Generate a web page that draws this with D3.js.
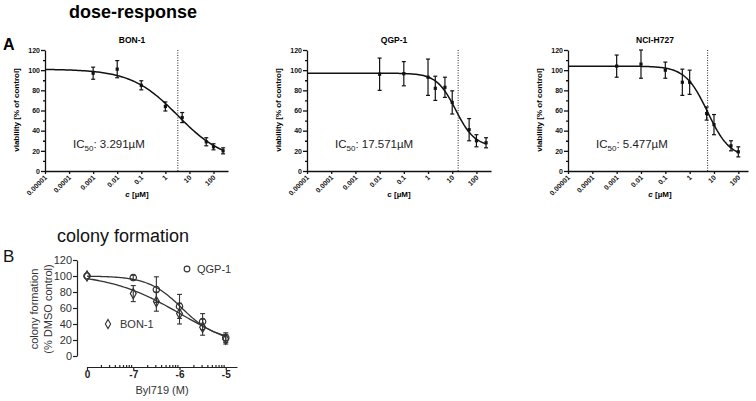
<!DOCTYPE html>
<html>
<head>
<meta charset="utf-8">
<script src="https://cdn.jsdelivr.net/npm/d3@7"></script>
<style>
  body { margin: 0; background: #fff; }
  svg { display: block; font-family: "Liberation Sans", Arial, sans-serif; }
  .axA path, .axA line { stroke: #111; stroke-width: 1.3; }
  .axA text { font-size: 7px; font-weight: bold; fill: #111; }
  .axB path, .axB line { stroke: #222; stroke-width: 1.2; }
</style>
</head>
<body>
<svg id="chart" width="756" height="401"></svg>
<script>
// ---- A: dose-response (viability, % of control) ----
var cellLines = ["BON-1", "QGP-1", "NCI-H727"];
var ic50 = [3.291, 17.571, 5.477];

var concBON = [0.001, 0.01, 0.1, 1, 5, 50, 100, 250];
var viabBON = [97, 101, 85, 64, 53, 29, 24, 20];
var errBON  = [6, 8.5, 4.5, 4.5, 5, 4, 3, 3];

var concQGP = [0.01, 0.1, 1, 2, 5, 10, 50, 100, 250];
var viabQGP = [96, 96.5, 93, 82, 83, 68, 41, 30, 28];
var errQGP  = [16, 12, 18, 12, 10, 11.5, 11, 6, 5];

var concNCI = [0.001, 0.01, 0.1, 0.5, 1, 5, 10, 50, 100];
var viabNCI = [104, 106, 100, 88, 88, 57, 46, 25, 19];
var errNCI  = [11, 14, 8, 13, 12, 6.5, 10, 5, 5];

// fitted 4PL curve parameters
var fitTop    = [101, 97, 104];
var fitBottom = [9, 24, 13];
var fitHill   = [0.45, 1.1, 0.95];
var fitEC50   = [3.291, 14, 5.477];

var doseTicks = [0.00001, 0.0001, 0.001, 0.01, 0.1, 1, 10, 100];
var doseTickLabels = ["0.00001", "0.0001", "0.001", "0.01", "0.1", "1", "10", "100"];
var viabTicks = [0, 20, 40, 60, 80, 100, 120];

// ---- B: colony formation ----
var bylDose = [0, 1e-7, 3.16e-7, 1e-6, 3.16e-6, 1e-5];
var colQGP = [100, 98, 83, 62, 43, 23];
var colQGPerr = [0, 3, 16, 15, 10, 6];
var colBON = [100, 78, 68, 53, 36, 21];
var colBONerr = [0, 10, 12, 13, 10, 6];
var colFitTop = [100, 104];
var colFitBottom = [20, 0];
var colFitHill = [1.2, 0.55];
var colFitEC50 = [1.12e-6, 1.1e-6];
var colTicks = [0, 20, 40, 60, 80, 100, 120];
var bylTickLabels = {"-8": "0", "-7": "-7", "-6": "-6", "-5": "-5"};

function fourPL(top, bottom, hill, ec50, x) {
  return bottom + (top - bottom) / (1 + Math.pow(x / ec50, hill));
}

function isDecade(d) {
  return Math.abs(Math.log10(d) - Math.round(Math.log10(d))) < 1e-6;
}

var svg = d3.select("#chart");

// headings
svg.append("text").attr("x", 133).attr("y", 18).attr("text-anchor", "middle")
  .style("font-size", "18px").style("font-weight", "bold").text("dose-response");
svg.append("text").attr("x", 3).attr("y", 50)
  .style("font-size", "16px").style("font-weight", "bold").text("A");

var panels = [
  {conc: concBON, viab: viabBON, err: errBON, x0: 45, x1: 228, italicC: true},
  {conc: concQGP, viab: viabQGP, err: errQGP, x0: 307, x1: 491, italicC: false},
  {conc: concNCI, viab: viabNCI, err: errNCI, x0: 568, x1: 748, italicC: true}
];
var domMax = [400, 400, 250];

panels.forEach(function(p, i) {
  var x = d3.scaleLog().domain([0.00001, domMax[i]]).range([p.x0, p.x1]);
  var y = d3.scaleLinear().domain([0, 120]).range([171, 50]);
  var g = svg.append("g");

  // y axis with minor ticks
  g.append("g").attr("class", "axA")
    .attr("transform", "translate(" + p.x0 + ",0)")
    .call(d3.axisLeft(y).tickValues(d3.range(10, 120, 20)).tickSize(2).tickFormat(""))
    .select(".domain").remove();
  g.append("g").attr("class", "axA")
    .attr("transform", "translate(" + p.x0 + ",0)")
    .call(d3.axisLeft(y).tickValues(viabTicks).tickSize(4).tickSizeOuter(0).tickPadding(1));

  // x axis
  var xa = g.append("g").attr("class", "axA")
    .attr("transform", "translate(0,171)")
    .call(d3.axisBottom(x).tickValues(doseTicks).tickSize(3).tickSizeOuter(0)
      .tickFormat(function(d, j) { return doseTickLabels[j]; }));
  xa.selectAll("text")
    .attr("text-anchor", "end")
    .attr("dy", null).attr("y", 0).attr("x", 0)
    .attr("transform", "translate(2,7) rotate(-45)");

  // IC50 dotted line
  g.append("line")
    .attr("x1", x(ic50[i])).attr("x2", x(ic50[i]))
    .attr("y1", y(120)).attr("y2", y(0))
    .attr("stroke", "#222").attr("stroke-width", 1).attr("stroke-dasharray", "1,1.5");

  // fitted curve
  var lo = Math.log10(0.00001), hi = Math.log10(d3.max(p.conc));
  var xs = d3.range(0, 121).map(function(k) { return Math.pow(10, lo + k / 120 * (hi - lo)); });
  var line = d3.line()
    .x(function(d) { return x(d); })
    .y(function(d) { return y(fourPL(fitTop[i], fitBottom[i], fitHill[i], fitEC50[i], d)); });
  g.append("path").datum(xs).attr("d", line)
    .attr("fill", "none").attr("stroke", "#111").attr("stroke-width", 1.5);

  // error bars + points
  var pts = g.selectAll(".pt").data(p.conc).enter().append("g");
  pts.append("line")
    .attr("x1", function(d) { return x(d); }).attr("x2", function(d) { return x(d); })
    .attr("y1", function(d, j) { return y(p.viab[j] + p.err[j]); })
    .attr("y2", function(d, j) { return y(p.viab[j] - p.err[j]); })
    .attr("stroke", "#111").attr("stroke-width", 1.2);
  [1, -1].forEach(function(s) {
    pts.append("line")
      .attr("x1", function(d) { return x(d) - 2; }).attr("x2", function(d) { return x(d) + 2; })
      .attr("y1", function(d, j) { return y(p.viab[j] + s * p.err[j]); })
      .attr("y2", function(d, j) { return y(p.viab[j] + s * p.err[j]); })
      .attr("stroke", "#111").attr("stroke-width", 1.2);
  });
  pts.append("rect")
    .attr("x", function(d) { return x(d) - 1.6; })
    .attr("y", function(d, j) { return y(p.viab[j]) - 1.6; })
    .attr("width", 3.2).attr("height", 3.2).attr("fill", "#111");

  // titles and labels
  var mid = p.x0 + 87;
  g.append("text").attr("x", mid).attr("y", 43).attr("text-anchor", "middle")
    .style("font-size", "8.5px").style("font-weight", "bold").text(cellLines[i]);
  g.append("text")
    .attr("transform", "translate(" + (p.x0 - 26) + ",110) rotate(-90)")
    .attr("text-anchor", "middle")
    .style("font-size", "8px").style("font-weight", "bold").text("viability [% of control]");
  var xl = g.append("text").attr("x", p.x0 + 92).attr("y", 197).attr("text-anchor", "middle")
    .style("font-size", "8px").style("font-weight", "bold");
  xl.append("tspan").attr("font-style", p.italicC ? "italic" : "normal").text("c");
  xl.append("tspan").text(" [\u00b5M]");

  var ic = g.append("text").attr("x", p.x0 + 28).attr("y", 148)
    .style("font-size", "11.5px").attr("fill", "#222");
  ic.append("tspan").text("IC");
  ic.append("tspan").attr("dy", 3).style("font-size", "8px").text("50");
  ic.append("tspan").attr("dy", -3).text(": " + ic50[i] + "\u00b5M");
});

// ---- panel B ----
svg.append("text").attr("x", 123).attr("y", 242).attr("text-anchor", "middle")
  .style("font-size", "18px").attr("fill", "#111").text("colony formation");
svg.append("text").attr("x", 3).attr("y", 262)
  .style("font-size", "17px").attr("fill", "#111").text("B");

var xB = d3.scaleLog().domain([1e-8, 1.75e-5]).range([87, 237]);
var yB = d3.scaleLinear().domain([0, 120]).range([356, 260]);
var gB = svg.append("g");

var yAxB = gB.append("g").attr("class", "axB").attr("transform", "translate(77,0)")
  .call(d3.axisLeft(yB).tickValues(colTicks).tickSize(4).tickSizeOuter(0).tickPadding(1));
yAxB.selectAll("text").style("font-size", "11px").attr("fill", "#333");

var xAxB = gB.append("g").attr("class", "axB").attr("transform", "translate(0,367)")
  .call(d3.axisBottom(xB).ticks(20).tickSize(3).tickSizeOuter(0).tickPadding(1)
    .tickFormat(function(d) { return isDecade(d) ? (bylTickLabels[Math.round(Math.log10(d))] || "") : ""; }));
xAxB.selectAll(".tick line")
  .attr("y2", function(d) { return isDecade(d) ? 3 : -2; });
xAxB.selectAll("text").style("font-size", "10px").style("font-weight", "bold").attr("fill", "#222");

gB.append("text").attr("x", 162).attr("y", 394).attr("text-anchor", "middle")
  .style("font-size", "11px").attr("fill", "#333").text("Byl719 (M)");
gB.append("text").attr("transform", "translate(38,309) rotate(-90)").attr("text-anchor", "middle")
  .style("font-size", "11px").attr("fill", "#333").text("colony formation");
gB.append("text").attr("transform", "translate(52,309) rotate(-90)").attr("text-anchor", "middle")
  .style("font-size", "11px").attr("fill", "#333").text("(% DMSO control)");

function xDose(d) { return d === 0 ? xB(1e-8) : xB(d); }

var seriesB = [
  {vals: colQGP, err: colQGPerr, sym: d3.symbolCircle},
  {vals: colBON, err: colBONerr, sym: d3.symbolDiamond}
];
seriesB.forEach(function(s, i) {
  var xs = d3.range(0, 101).map(function(k) { return Math.pow(10, -8 + k * 3 / 100); });
  gB.append("path").datum(xs)
    .attr("d", d3.line().x(function(d) { return xB(d); })
      .y(function(d) { return yB(fourPL(colFitTop[i], colFitBottom[i], colFitHill[i], colFitEC50[i], d)); }))
    .attr("fill", "none").attr("stroke", "#333").attr("stroke-width", 1.3);

  bylDose.forEach(function(d, j) {
    if (s.err[j] > 0) {
      var cx = xDose(d);
      gB.append("line").attr("x1", cx).attr("x2", cx)
        .attr("y1", yB(s.vals[j] + s.err[j])).attr("y2", yB(s.vals[j] - s.err[j]))
        .attr("stroke", "#333").attr("stroke-width", 1.1);
      [1, -1].forEach(function(sg) {
        gB.append("line").attr("x1", cx - 2.5).attr("x2", cx + 2.5)
          .attr("y1", yB(s.vals[j] + sg * s.err[j])).attr("y2", yB(s.vals[j] + sg * s.err[j]))
          .attr("stroke", "#333").attr("stroke-width", 1.1);
      });
    }
  });
  gB.selectAll(".m" + i).data(bylDose).enter().append("path")
    .attr("d", d3.symbol().type(s.sym).size(i === 0 ? 32 : 30))
    .attr("transform", function(d, j) { return "translate(" + xDose(d) + "," + yB(s.vals[j]) + ")"; })
    .attr("fill", "none").attr("stroke", "#333").attr("stroke-width", 1.2);
});

// legend
gB.append("path").attr("d", d3.symbol().type(d3.symbolCircle).size(26))
  .attr("transform", "translate(187,269)").attr("fill", "none").attr("stroke", "#333").attr("stroke-width", 1.1);
gB.append("text").attr("x", 197).attr("y", 273).style("font-size", "11px").attr("fill", "#333").text("QGP-1");
gB.append("path").attr("d", d3.symbol().type(d3.symbolDiamond).size(24))
  .attr("transform", "translate(108,324)").attr("fill", "none").attr("stroke", "#333").attr("stroke-width", 1.1);
gB.append("text").attr("x", 120).attr("y", 328).style("font-size", "11px").attr("fill", "#333").text("BON-1");
</script>
</body>
</html>
